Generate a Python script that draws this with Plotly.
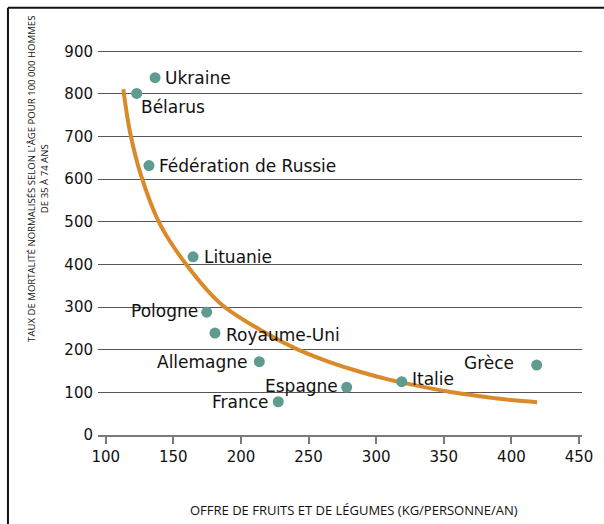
import plotly.graph_objects as go

# ---- data ----
countries = ["Ukraine", "Bélarus", "Fédération de Russie", "Lituanie", "Pologne",
             "Royaume-Uni", "Allemagne", "France", "Espagne", "Italie", "Grèce"]
fruit_veg_supply = [136.5, 122.9, 132.0, 164.6, 174.7, 180.8, 213.6, 227.6, 278.2, 318.9, 418.7]
mortality_rate = [838, 801, 632, 418, 288, 239, 172, 78, 112, 125, 164]

trend_x = [113, 118, 126, 140, 160, 185, 219, 241, 263, 283, 308, 333, 355, 377, 400, 419]
trend_y = [811, 710, 610, 495, 398, 308, 238, 202, 174, 153, 131, 114, 101, 91, 82, 77]

x_ticks = [100, 150, 200, 250, 300, 350, 400, 450]
y_ticks = [0, 100, 200, 300, 400, 500, 600, 700, 800, 900]

x_title = "OFFRE DE FRUITS ET DE LÉGUMES (KG/PERSONNE/AN)"
y_title = "TAUX DE MORTALITÉ NORMALISÉS SELON L'ÂGE POUR 100 000 HOMMES<br>DE 35 À 74 ANS"

# label placement (style, not data): anchor, xshift, yshift in px
label_pos = {
    "Ukraine": ("left", 8, 0),
    "Bélarus": ("left", 2, -14),
    "Fédération de Russie": ("left", 8, 0),
    "Lituanie": ("left", 9, 0),
    "Pologne": ("right", -7, 1),
    "Royaume-Uni": ("left", 9, -2),
    "Allemagne": ("right", -9, 0),
    "France": ("right", -7, 0),
    "Espagne": ("right", -7, 1),
    "Italie": ("left", 8, 3),
    "Grèce": ("right", -21, 2),
}

FONT = "DejaVu Sans, Verdana, sans-serif"
TITLE_FONT = "Open Sans, Noto Sans, sans-serif"
TEAL = "#5f9b90"
ORANGE = "#d98a2a"

fig = go.Figure()
fig.add_trace(go.Scatter(
    x=trend_x, y=trend_y, mode="lines",
    line=dict(color=ORANGE, width=4, shape="spline", smoothing=1.0),
    hoverinfo="skip", showlegend=False,
))
fig.add_trace(go.Scatter(
    x=fruit_veg_supply, y=mortality_rate, mode="markers",
    marker=dict(color=TEAL, size=11, line=dict(width=0)),
    text=countries, showlegend=False,
))

annotations = []
for c, xv, yv in zip(countries, fruit_veg_supply, mortality_rate):
    anc, xs, ys = label_pos[c]
    annotations.append(dict(
        x=xv, y=yv, xref="x", yref="y", text=c, showarrow=False,
        xanchor=anc, yanchor="middle", xshift=xs, yshift=ys,
        font=dict(family=FONT, size=17, color="#111111"),
    ))

annotations.append(dict(
    x=0.529, y=-0.194, xref="paper", yref="paper", text=x_title, showarrow=False,
    xanchor="center", yanchor="middle",
    font=dict(family=TITLE_FONT, size=13, color="#111111"),
))
annotations.append(dict(
    x=-0.124, y=0.66, xref="paper", yref="paper", text=y_title, showarrow=False,
    textangle=-90, xanchor="center", yanchor="middle",
    font=dict(family=TITLE_FONT, size=9.6, color="#111111"),
))

# frame (top and left edges of the figure box)
shapes = [
    dict(type="line", xref="paper", yref="paper", x0=-0.186, x1=1.1, y0=1.101, y1=1.101,
         line=dict(color="#111111", width=2)),
    dict(type="line", xref="paper", yref="paper", x0=-0.186, x1=-0.186, y0=1.101, y1=-0.3,
         line=dict(color="#111111", width=2)),
]

fig.update_layout(
    width=604, height=524,
    margin=dict(l=98, r=22, t=47, b=89),
    paper_bgcolor="white", plot_bgcolor="white",
    font=dict(family=FONT, size=16, color="#111111"),
    annotations=annotations, shapes=shapes,
    showlegend=False,
)
fig.update_xaxes(
    range=[94.3, 452.2], tickvals=x_ticks, ticktext=[str(v) for v in x_ticks],
    showgrid=False, zeroline=False,
    showline=True, linecolor="#7a7a7a", linewidth=2,
    ticks="outside", ticklen=7, tickwidth=2, tickcolor="#7a7a7a",
    tickfont=dict(family=FONT, size=15, color="#111111"),
)
fig.update_yaxes(
    range=[0, 910], tickvals=y_ticks, ticktext=[str(v) for v in y_ticks],
    showgrid=True, gridcolor="#555555", gridwidth=1.2,
    zeroline=False, showline=False, ticks="", ticklabelstandoff=4,
    tickfont=dict(family=FONT, size=15, color="#111111"),
)

fig.write_html(
    "out.html",
    config={"displayModeBar": False},
    post_script="document.body.style.margin='0';document.body.style.overflow='hidden';",
)
